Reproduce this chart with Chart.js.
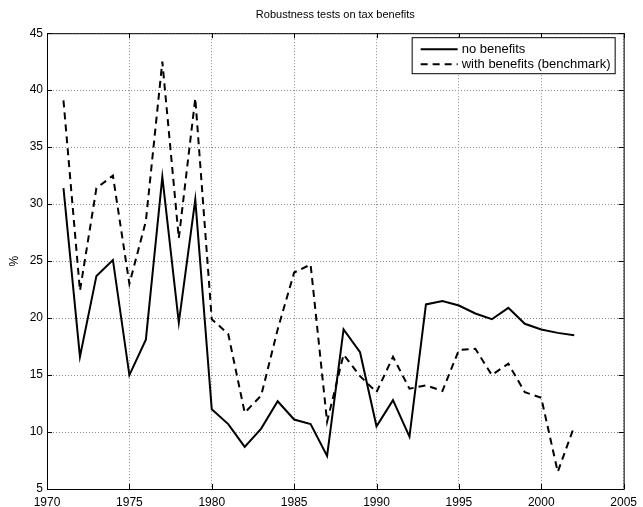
<!DOCTYPE html>
<html>
<head>
<meta charset="utf-8">
<script src="https://cdn.jsdelivr.net/npm/chart.js@4/dist/chart.umd.min.js"></script>
<style>
  html, body { margin: 0; padding: 0; background: #fff; }
  #wrap { width: 643px; height: 507px; }
</style>
</head>
<body>
<div id="wrap"><canvas id="robust"></canvas></div>
<script>
 var years = [1971, 1972, 1973, 1974, 1975, 1976, 1977, 1978, 1979, 1980,
              1981, 1982, 1983, 1984, 1985, 1986, 1987, 1988, 1989, 1990,
              1991, 1992, 1993, 1994, 1995, 1996, 1997, 1998, 1999, 2000,
              2001, 2002];
 var noBenefits = [31.4, 16.6, 23.7, 25.1, 15.0, 18.1, 32.4, 19.6, 30.4, 12.0,
                   10.7, 8.7, 10.3, 12.7, 11.1, 10.7, 7.9, 19.0, 17.0, 10.5,
                   12.8, 9.6, 21.2, 21.5, 21.1, 20.4, 19.9, 20.9, 19.5, 19.0,
                   18.7, 18.5];
 var withBenefits = [39.1, 22.4, 31.4, 32.5, 23.0, 28.5, 42.5, 27.0, 39.3, 19.9,
                     18.6, 11.7, 13.2, 19.0, 24.0, 24.7, 10.9, 16.8, 14.9, 13.5,
                     16.6, 13.8, 14.1, 13.6, 17.2, 17.3, 15.0, 16.0, 13.5, 13.0,
                     6.5, 10.5];
 var seriesNames = ['no benefits', 'with benefits (benchmark)'];
 var yTicks = [5, 10, 15, 20, 25, 30, 35, 40, 45];
 var xTicks = [1970, 1975, 1980, 1985, 1990, 1995, 2000, 2005];

 function toPoints(vals) {
     return years.map(function (y, i) { return { x: y, y: vals[i] }; });
 }

 // black box round the plot, with small inward ticks on all four sides
 var framePlugin = {
     id: 'frame',
     afterDatasetsDraw: function (chart) {
         var c = chart.ctx, a = chart.chartArea;
         var xs = chart.scales.x, ys = chart.scales.y;
         c.save();
         c.strokeStyle = '#000';
         c.lineWidth = 1;
         c.strokeRect(a.left + 0.5, a.top + 0.5, a.right - a.left, a.bottom - a.top);
         c.beginPath();
         xTicks.forEach(function (t) {
             var px = Math.round(xs.getPixelForValue(t)) + 0.5;
             c.moveTo(px, a.bottom); c.lineTo(px, a.bottom - 5);
             c.moveTo(px, a.top); c.lineTo(px, a.top + 5);
         });
         yTicks.forEach(function (t) {
             var py = Math.round(ys.getPixelForValue(t)) + 0.5;
             c.moveTo(a.left, py); c.lineTo(a.left + 5, py);
             c.moveTo(a.right, py); c.lineTo(a.right - 5, py);
         });
         c.stroke();
         c.restore();
     }
 };

 // MATLAB-style legend box in the top right corner
 var boxLegend = {
     id: 'boxLegend',
     afterDraw: function (chart) {
         var c = chart.ctx, a = chart.chartArea;
         var w = 203, h = 36;
         var x0 = a.right - 9 - w, y0 = a.top + 4;
         c.save();
         c.fillStyle = '#fff';
         c.fillRect(x0, y0, w, h);
         c.strokeStyle = '#000';
         c.lineWidth = 1;
         c.strokeRect(x0 + 0.5, y0 + 0.5, w, h);
         c.font = '13px "Liberation Sans", Arial, sans-serif';
         c.textBaseline = 'middle';
         c.fillStyle = '#000';
         chart.data.datasets.forEach(function (ds, i) {
             var ly = y0 + 12 + i * 15;
             c.beginPath();
             c.lineWidth = 2;
             c.setLineDash(ds.borderDash || []);
             c.moveTo(x0 + 9, ly);
             c.lineTo(x0 + 46, ly);
             c.stroke();
             c.setLineDash([]);
             c.fillText(ds.label, x0 + 50, ly);
         });
         c.restore();
     }
 };

 var ctx = document.getElementById('robust').getContext('2d');
 var myChart = new Chart(ctx, {
     type: 'line',
     data: {
         datasets: [{
             label: seriesNames[0],
             data: toPoints(noBenefits),
             borderColor: '#000',
             backgroundColor: '#000',
             borderWidth: 2,
             pointRadius: 0,
             tension: 0,
             fill: false
         },
         {
             label: seriesNames[1],
             data: toPoints(withBenefits),
             borderColor: '#000',
             backgroundColor: '#000',
             borderWidth: 2,
             borderDash: [7, 5],
             pointRadius: 0,
             tension: 0,
             fill: false
         }]
     },
     options: {
         responsive: true,
         maintainAspectRatio: false,
         animation: false,
         layout: { padding: { left: 0, right: 15, top: 0, bottom: 0 } },
         plugins: {
             legend: { display: false },
             tooltip: { enabled: false },
             title: {
                 display: true,
                 text: 'Robustness tests on tax benefits',
                 fullSize: false,
                 color: '#000',
                 font: { family: '"Liberation Sans", Arial, sans-serif', size: 11, weight: 'normal' },
                 padding: { top: 8, bottom: 12 }
             }
         },
         scales: {
             x: {
                 type: 'linear',
                 min: 1970,
                 max: 2005,
                 afterFit: function (s) { s.height = 18; },
                 afterBuildTicks: function (s) {
                     s.ticks = xTicks.map(function (v) { return { value: v }; });
                 },
                 ticks: {
                     color: '#000',
                     autoSkip: false,
                     maxRotation: 0,
                     padding: 6,
                     font: { family: '"Liberation Sans", Arial, sans-serif', size: 12 },
                     callback: function (v) { return String(v); }
                 },
                 grid: {
                     color: '#8a8a8a',
                     lineWidth: 1,
                     drawTicks: false
                 },
                 border: { display: false, dash: [1, 2] }
             },
             y: {
                 min: 5,
                 max: 45,
                 afterFit: function (s) { s.width = 47; },
                 afterBuildTicks: function (s) {
                     s.ticks = yTicks.map(function (v) { return { value: v }; });
                 },
                 title: {
                     display: true,
                     text: '%',
                     color: '#000',
                     font: { family: '"Liberation Sans", Arial, sans-serif', size: 12 },
                     padding: { top: 7, bottom: 0 }
                 },
                 ticks: {
                     color: '#000',
                     padding: 4,
                     font: { family: '"Liberation Sans", Arial, sans-serif', size: 12 }
                 },
                 grid: {
                     color: '#8a8a8a',
                     lineWidth: 1,
                     drawTicks: false
                 },
                 border: { display: false, dash: [1, 2] }
             }
         }
     },
     plugins: [framePlugin, boxLegend]
 });
</script>
</body>
</html>
